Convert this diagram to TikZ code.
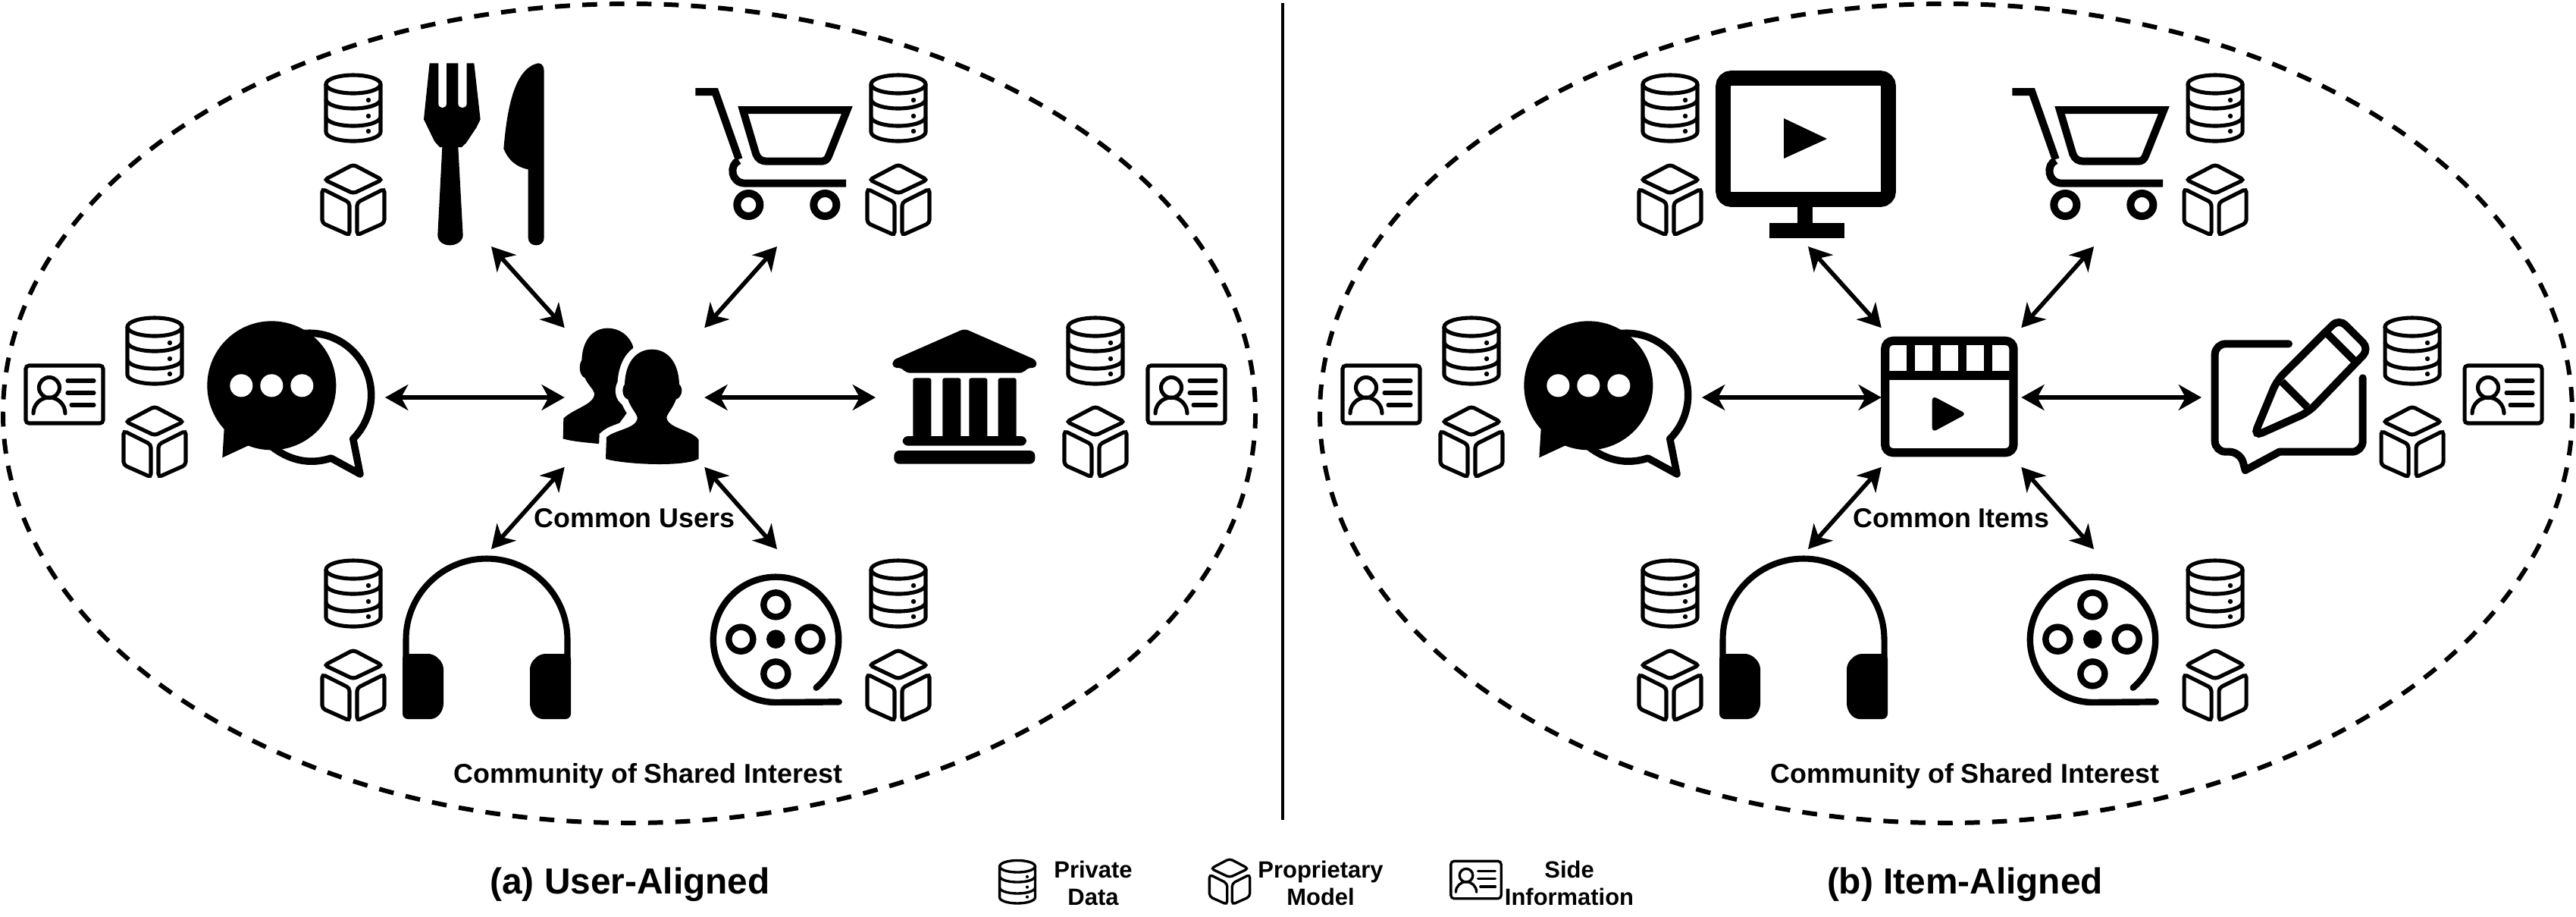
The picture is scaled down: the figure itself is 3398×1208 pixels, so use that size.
\documentclass[tikz,border=0pt]{standalone}
\usepackage{fontspec}
\setmainfont{Liberation Sans}
\usetikzlibrary{arrows.meta,positioning}

\tikzset{
  iconline/.style={line width=1.45pt},
  biarrow/.style={line width=1.6pt, {Stealth[length=8.6pt,width=9.6pt,inset=2.6pt]}-{Stealth[length=8.6pt,width=9.6pt,inset=2.6pt]}},
  ring/.style={line width=1.7pt, dash pattern=on 5.6pt off 4.6pt},
  labeltext/.style={font=\fontsize{10.2}{12}\selectfont\bfseries, inner sep=0pt},
  captiontext/.style={font=\fontsize{13.6}{16}\selectfont\bfseries, inner sep=0pt},
  legendtext/.style={font=\fontsize{8.8}{10.2}\selectfont\bfseries, inner sep=0pt, align=center},
  hubbox/.style={minimum width=1.83cm, minimum height=1.82cm, inner sep=0pt},
  % small icons, origin in their centre
  pics/dbicon/.style={code={
    \draw[iconline] (0,-32) ellipse [x radius=36, y radius=12];
    \draw[iconline, line join=round] (-36,-32) -- (-36,31) arc [start angle=180, end angle=0, x radius=36, y radius=12] -- (36,-32);
    \draw[iconline] (-36,-12) arc [start angle=180, end angle=0, x radius=36, y radius=12];
    \draw[iconline] (-36,11) arc [start angle=180, end angle=0, x radius=36, y radius=12];
    \foreach \doty in {-11,10,30} \fill (20,\doty) circle [radius=3.2];
  }},
  pics/cubeicon/.style={code={
    \draw[iconline, rounded corners=1.2pt] (0,-46) -- (38,-26) -- (0,-8) -- (-38,-26) -- cycle;
    \draw[iconline, rounded corners=1.2pt] (-41,-14) -- (-5,4) -- (-5,47) -- (-41,31) -- cycle;
    \draw[iconline, rounded corners=1.2pt] (41,-14) -- (5,4) -- (5,47) -- (41,31) -- cycle;
  }},
  pics/cardicon/.style={code={
    \draw[iconline, rounded corners=1.2pt] (-51,-38) rectangle (51,38);
    \draw[iconline] (-20,-9) circle [radius=13.5];
    \draw[iconline, line cap=round] (-41,25) arc [start angle=180, end angle=360, radius=21];
    \draw[iconline, line cap=round] (4,-18) -- (39,-18);
    \draw[iconline, line cap=round] (4,-2) -- (39,-2);
    \draw[iconline, line cap=round] (9,14) -- (39,14);
  }},
  % large icons, origin at the corner of the region they were measured in
  pics/forkknife/.style={code={\begin{scope}[scale=1/3]
    \fill (80,40) -- (115,40) -- (115,200) .. controls (115,222) and (147,222) .. (147,200) -- (147,40) -- (193,40) -- (193,200) .. controls (193,222) and (227,222) .. (227,200) -- (227,40) -- (256,40) -- (281,262) -- (265,295) -- (225,355) -- (207,372) -- (193,372) -- (212,720) .. controls (212,745) and (185,760) .. (160,760) .. controls (135,760) and (112,745) .. (112,720) -- (130,372) -- (120,372) -- (100,350) -- (57,262) -- cycle;
    \fill (510,40) .. controls (530,40) and (533,60) .. (533,75) -- (533,730) .. controls (533,750) and (518,760) .. (502,760) .. controls (485,760) and (470,750) .. (470,730) -- (470,460) .. controls (420,450) and (390,420) .. (373,378) .. controls (385,240) and (410,60) .. (510,40) -- cycle;
  \end{scope}}},
  pics/carticon/.style={code={\begin{scope}[scale=1/3, line width=2.85pt]
    \draw (52,63) -- (130,63) -- (224,330);
    \draw (224,335) .. controls (185,350) and (190,425) .. (250,425) -- (648,425);
    \draw (240,135) -- (652,135) -- (580,315) .. controls (575,330) and (565,338) .. (550,338) -- (335,338) .. controls (315,338) and (300,330) .. (292,310) -- cycle;
    \draw (262,510) circle [radius=45];
    \draw (565,510) circle [radius=45];
  \end{scope}}},
  pics/bankicon/.style={code={\begin{scope}[scale=1/3]
    \fill[rounded corners=1.5pt] (337,40) -- (622,165) -- (622,195) -- (585,195) -- (570,215) -- (105,215) -- (90,195) -- (52,195) -- (52,165) -- cycle;
    \foreach \colx in {133,250,355,470} \fill[rounded corners=0.8pt] (\colx,235) rectangle ++(72,240);
    \fill[rounded corners=2pt] (92,465) rectangle (582,503);
    \fill[rounded corners=2pt] (58,522) rectangle (616,575);
  \end{scope}}},
  pics/reelicon/.style={code={\begin{scope}[scale=1/3, line width=2.4pt]
    \draw[line cap=round] (470,500) arc [start angle=50, end angle=-270, radius=248] -- (560,556);
    \foreach \holex/\holey in {310/172,310/445,172/308,446/308} \draw (\holex,\holey) circle [radius=48];
    \fill (310,308) circle [radius=37];
  \end{scope}}},
  pics/chaticon/.style={code={\begin{scope}[scale=1/3]
    \draw[line width=2.7pt, line join=round, line cap=round] (1130,120) arc [start angle=-98, end angle=45, radius=245] -- (1365,675) -- (1250,612) .. controls (1180,635) and (1100,630) .. (1020,570);
    \fill (1015,325) circle [radius=255];
    \fill (828,480) -- (820,610) -- (960,545) -- cycle;
    \foreach \dotx in {895,1015,1135} \fill[white] (\dotx,325) circle [radius=45];
  \end{scope}}},
  pics/usersicon/.style={code={\begin{scope}[scale=1/3]
    \fill (245,98) .. controls (190,98) and (145,140) .. (142,225) .. controls (130,240) and (130,285) .. (155,295) .. controls (165,320) and (185,335) .. (192,355) .. controls (195,400) and (110,415) .. (70,455) -- (68,535) .. controls (100,545) and (150,550) .. (230,557) -- (345,400) -- (345,170) .. controls (330,125) and (290,98) .. (245,98) -- cycle;
    \path[fill, draw=white, line width=5.4pt] (420,182) .. controls (360,182) and (315,230) .. (312,320) .. controls (300,335) and (300,370) .. (325,380) .. controls (335,410) and (355,430) .. (362,450) .. controls (365,495) and (270,500) .. (240,530) -- (237,615) .. controls (300,635) and (540,650) .. (605,615) -- (605,540) .. controls (580,500) and (480,495) .. (478,450) .. controls (485,430) and (505,410) .. (515,380) .. controls (540,370) and (545,335) .. (528,320) .. controls (525,230) and (480,182) .. (420,182) -- cycle;
    \fill (420,182) .. controls (360,182) and (315,230) .. (312,320) .. controls (300,335) and (300,370) .. (325,380) .. controls (335,410) and (355,430) .. (362,450) .. controls (365,495) and (270,500) .. (240,530) -- (237,615) .. controls (300,635) and (540,650) .. (605,615) -- (605,540) .. controls (580,500) and (480,495) .. (478,450) .. controls (485,430) and (505,410) .. (515,380) .. controls (540,370) and (545,335) .. (528,320) .. controls (525,230) and (480,182) .. (420,182) -- cycle;
  \end{scope}}},
  pics/clapicon/.style={code={\begin{scope}[scale=1/3, line width=3.2pt]
    \draw[rounded corners=3pt] (80,58) rectangle (588,500);
    \draw (80,195) -- (588,195);
    \foreach \slatx in {182,284,385,487} \draw (\slatx,58) -- (\slatx,195);
    \fill[rounded corners=1.8pt] (266,275) -- (402,347) -- (266,420) -- cycle;
  \end{scope}}},
  pics/penicon/.style={code={\begin{scope}[scale=1/3, line width=2.85pt]
    \draw[line cap=round, rounded corners=4pt] (357,130) -- (65,130) -- (65,557) -- (165,557) -- (185,630);
    \draw[line cap=round, miter limit=10] (185,630) -- (320,557);
    \draw[line cap=round, rounded corners=4pt] (320,557) -- (650,557) -- (650,265);
    \draw[rounded corners=3.4pt] (218,497) -- (310,275) -- (556,30) -- (676,150) -- (435,400) -- cycle;
    \draw (330,280) -- (430,380);
    \draw (510,90) -- (615,195);
  \end{scope}}},
  pics/monitoricon/.style={code={
    \draw[line width=5.6pt, rounded corners=3pt] (10,10) rectangle (228,170);
    \fill (108,170) rectangle (128,205);
    \fill (71,201) rectangle (170,221);
    \fill (90,63) -- (147,90) -- (90,116) -- cycle;
  }},
}

\begin{document}
\begin{tikzpicture}[x=0.01cm, y=-0.01cm]
  \useasboundingbox (0,0) rectangle (3398,1208);

  % the two panels share most of their drawing
  \foreach \pname/\pshift/\pcommon/\pright in {a/0/Common Users/1155, b/1737/Common Items/1167} {
    \begin{scope}[xshift=\pshift*0.01cm]
      \draw[ring] (830,545) ellipse [x radius=826, y radius=540];
      \node[hubbox] (\pname-hub) at (837,524) {};

      \coordinate (\pname-north west-end) at (648,325);
      \coordinate (\pname-north east-end) at (1025,325);
      \coordinate (\pname-west-end) at (508,524);
      \coordinate (\pname-east-end) at (\pright,524);
      \coordinate (\pname-south west-end) at (648,724);
      \coordinate (\pname-south east-end) at (1025,724);
      \foreach \ganchor in {north west, north east, west, east, south west, south east}
        \draw[biarrow] (\pname-hub.\ganchor) -- (\pname-\ganchor-end);

      \foreach \ix/\iy in {466/143, 1185/143, 204/463, 1445/463, 466/783, 1185/783}
        \pic at (\ix,\iy) {dbicon};
      \foreach \ix/\iy in {466/263, 1185/263, 204/582, 1445/582, 466/903, 1185/903}
        \pic at (\ix,\iy) {cubeicon};
      \pic at (85,520) {cardicon};
      \pic at (1565,520) {cardicon};

      \pic at (900,100) {carticon};
      \pic at (20,400) {chaticon};
      \pic at (920,740) {reelicon};

      % headset
      \draw[line width=2.3pt] (535.5,870) -- (535.5,843) arc [start angle=180, end angle=360, radius=106.5] -- (748.5,870);
      \fill[rounded corners=2pt] (531,862) -- (572,862) -- (585,875) -- (585,935) -- (575,948) -- (531,948) -- cycle;
      \fill[rounded corners=2pt] (753,862) -- (712,862) -- (699,875) -- (699,935) -- (709,948) -- (753,948) -- cycle;

      \node[labeltext] (\pname-common) at (837,683) {\pcommon};
      \node[labeltext] (\pname-community) at (855,1023) {Community of Shared Interest};
    \end{scope}
  }

  % icons found in one panel only
  \pic at (540,70) {forkknife};
  \pic at (720,400) {usersicon};
  \pic at (1160,420) {bankicon};
  \pic at (2263,93) {monitoricon};
  \pic at (2460,430) {clapicon};
  \pic at (2900,410) {penicon};

  \coordinate (divtop) at (1692,4);
  \coordinate (divbottom) at (1692,1081);
  \draw[line width=1.1pt] (divtop) -- (divbottom);

  \node[captiontext] (captiona) at (831,1166) {(a) User-Aligned};
  \node[captiontext] (captionb) at (2592,1166) {(b) Item-Aligned};

  % legend
  \begin{scope}[iconline/.style={line width=0.95pt}]
    \pic[scale=0.65] at (1342,1163) {dbicon};
    \pic[scale=0.65] at (1622,1162) {cubeicon};
    \pic[scale=0.65] at (1947,1160) {cardicon};
  \end{scope}
  \node[legendtext] (legdata) at (1442,1164) {Private\\Data};
  \node[legendtext] (legmodel) at (1742,1164) {Proprietary\\Model};
  \node[legendtext] (legside) at (2070,1164) {Side\\Information};
\end{tikzpicture}
\end{document}
